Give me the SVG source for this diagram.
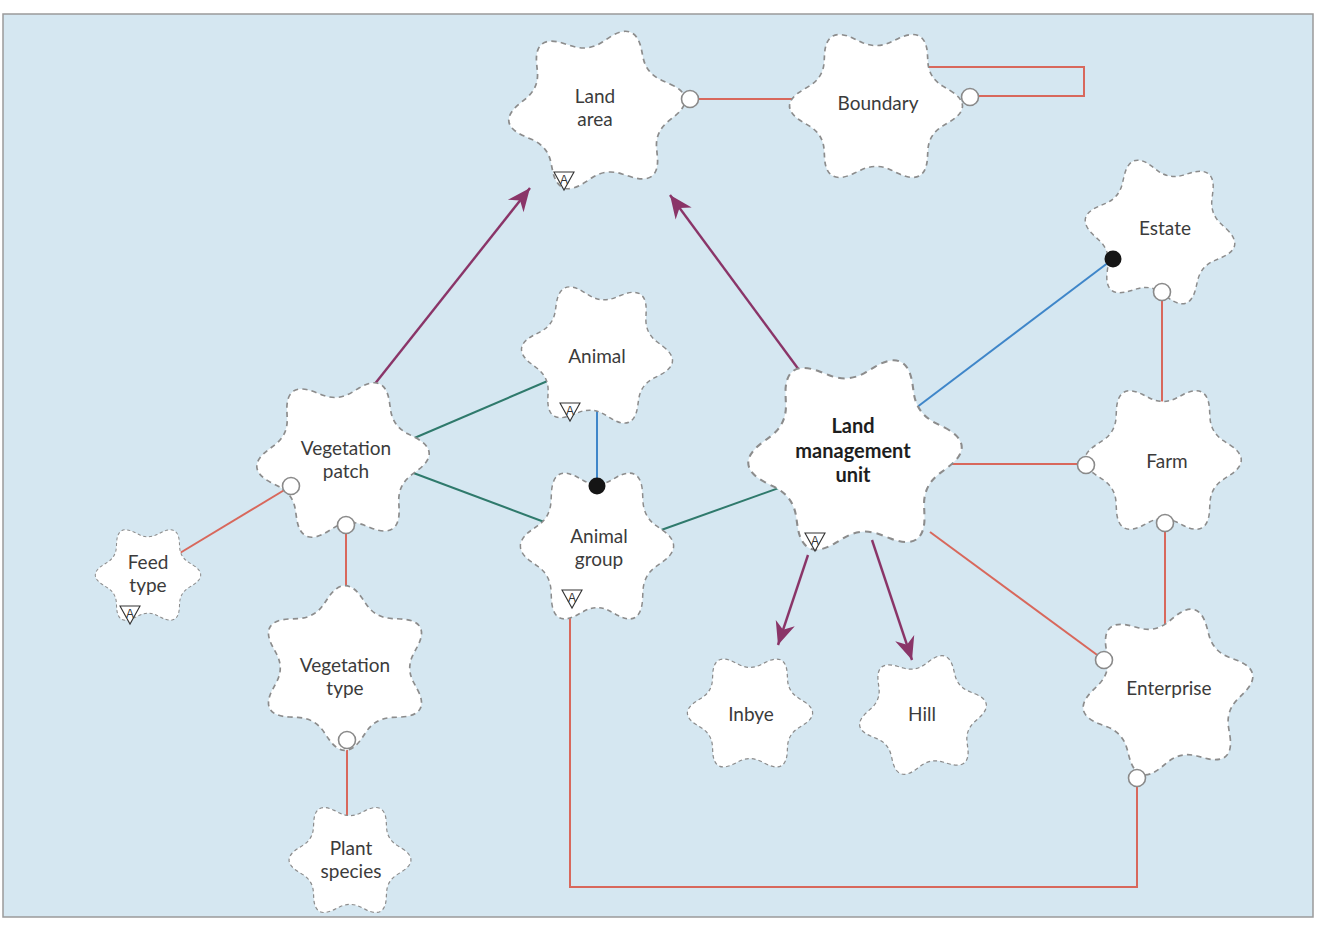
<svg xmlns="http://www.w3.org/2000/svg" xmlns:xlink="http://www.w3.org/1999/xlink" width="1321" height="926" viewBox="0 0 1321 926">
  <style>
    .blob { fill: #ffffff; stroke: #8c8c8c; stroke-width: 1.6; stroke-dasharray: 5 4; vector-effect: non-scaling-stroke; }
    .lbl { font-family: Lato, "Liberation Sans", sans-serif; font-size: 19px; fill: #3b3b3b; text-anchor: middle; }
    .bold { font-weight: bold; font-size: 20px; fill: #1e1e1e; }
    .red { stroke: #d8685c; stroke-width: 2; fill: none; }
    .teal { stroke: #2f7a6c; stroke-width: 2; fill: none; }
    .blue { stroke: #3f86c9; stroke-width: 2; fill: none; }
    .purple { stroke: #8a3568; stroke-width: 2.4; fill: none; marker-end: url(#arrow); }
    .open { fill: #ffffff; stroke: #8a8a8a; stroke-width: 1.6; }
    .dot { fill: #151515; }
    .tri { fill: #ffffff; stroke: #333333; stroke-width: 1.1; }
    .tri-a { font-family: "Liberation Sans", sans-serif; font-size: 12px; fill: #333333; text-anchor: middle; }
  </style>
  <defs>
    <!-- six-pointed cloud: blunt rounded tips, shallow rounded valleys, centred on the origin -->
    <path id="cloud" d="M70.38,-15.95 C86.38,-5.58 86.38,5.58 70.38,15.95 L63.66,20.3 Q50.23,29 49.41,44.98 L49,52.97 C48.02,72.01 38.36,77.59 21.38,68.93 L14.25,65.28 Q0,58 -14.24,65.28 L-21.38,68.93 C-38.36,77.59 -48.02,72.01 -49,52.97 L-49.41,44.98 Q-50.23,29 -63.66,20.3 L-70.38,15.95 C-86.38,5.58 -86.38,-5.58 -70.38,-15.95 L-63.66,-20.3 Q-50.23,-29 -49.41,-44.98 L-49,-52.97 C-48.02,-72.01 -38.36,-77.59 -21.38,-68.93 L-14.25,-65.28 Q0,-58 14.24,-65.28 L21.38,-68.93 C38.36,-77.59 48.02,-72.01 49,-52.97 L49.41,-44.98 Q50.23,-29 63.66,-20.3 Z"/>
    <marker id="arrow" markerUnits="userSpaceOnUse" viewBox="-24 -11 26 22" markerWidth="26" markerHeight="22" refX="0" refY="0" orient="auto">
      <path d="M0,0 L-23,-10 L-16,0 L-23,10 Z" fill="#8a3568"/>
    </marker>
    <g id="attr-icon">
      <polygon class="tri" points="-10,-8 10,-8 0,10"/>
      <text class="tri-a" x="0" y="4">A</text>
    </g>
  </defs>

  <!-- page and panel -->
  <rect x="0" y="0" width="1321" height="926" fill="#ffffff"/>
  <rect x="3" y="14" width="1310" height="903" fill="#d5e7f1" stroke="#9a9a9a" stroke-width="1.5"/>

  <!-- connector lines (drawn beneath the nodes) -->
  <g id="connectors">
    <path class="red" d="M690,99 H812"/>
    <path class="red" d="M915,67 H1084 V96 H970"/>
    <path class="red" d="M1162,292 V412"/>
    <path class="red" d="M900,464 H1086"/>
    <path class="red" d="M1165,523 V650"/>
    <path class="red" d="M930,532 L1104,660"/>
    <path class="red" d="M1137,778 V887 H570 V600"/>
    <path class="red" d="M165,562 L291,486"/>
    <path class="red" d="M346,525 V630"/>
    <path class="red" d="M347,740 V840"/>
    <path class="blue" d="M900,420 L1113,259"/>
    <path class="blue" d="M597,400 V488"/>
    <path class="teal" d="M405,442 L578,368"/>
    <path class="teal" d="M376,459 L563,529"/>
    <path class="teal" d="M650,534 L818,474"/>
    <path class="purple" d="M370,390 L530,188"/>
    <path class="purple" d="M805,378 L670,195"/>
    <path class="purple" d="M808,555 L778,645"/>
    <path class="purple" d="M872,540 L912,660"/>
  </g>

  <!-- nodes -->
  <g id="land-area">
    <use xlink:href="#cloud" class="blob" transform="translate(597,110) scale(1.08,1.02) rotate(-8)"/>
    <text class="lbl" x="595" y="103">Land</text>
    <text class="lbl" x="595" y="126">area</text>
    <use xlink:href="#attr-icon" transform="translate(564,180)"/>
  </g>
  <g id="boundary">
    <use xlink:href="#cloud" class="blob" transform="translate(876,106) scale(1.05,0.98)"/>
    <text class="lbl" x="878" y="110">Boundary</text>
  </g>
  <g id="estate">
    <use xlink:href="#cloud" class="blob" transform="translate(1160,232) scale(0.92,0.92) rotate(10)"/>
    <text class="lbl" x="1165" y="235">Estate</text>
  </g>
  <g id="animal">
    <use xlink:href="#cloud" class="blob" transform="translate(597,355) scale(0.92,0.9) rotate(5)"/>
    <text class="lbl" x="597" y="363">Animal</text>
    <use xlink:href="#attr-icon" transform="translate(570,411)"/>
  </g>
  <g id="vegetation-patch">
    <use xlink:href="#cloud" class="blob" transform="translate(343,460) scale(1.05,1.02) rotate(-5)"/>
    <text class="lbl" x="346" y="455">Vegetation</text>
    <text class="lbl" x="346" y="478">patch</text>
  </g>
  <g id="land-management-unit">
    <use xlink:href="#cloud" class="blob" transform="translate(855,455) scale(1.3,1.25) rotate(-5)"/>
    <text class="lbl bold" x="853" y="433">Land</text>
    <text class="lbl bold" x="853" y="458">management</text>
    <text class="lbl bold" x="853" y="482">unit</text>
    <use xlink:href="#attr-icon" transform="translate(815,541)"/>
  </g>
  <g id="farm">
    <use xlink:href="#cloud" class="blob" transform="translate(1163,460) scale(0.95,0.95)"/>
    <text class="lbl" x="1167" y="468">Farm</text>
  </g>
  <g id="feed-type">
    <use xlink:href="#cloud" class="blob" transform="translate(148,575) scale(0.64,0.62)"/>
    <text class="lbl" x="148" y="569">Feed</text>
    <text class="lbl" x="148" y="592">type</text>
    <use xlink:href="#attr-icon" transform="translate(130,614)"/>
  </g>
  <g id="animal-group">
    <use xlink:href="#cloud" class="blob" transform="translate(597,546) scale(0.93,1.0)"/>
    <text class="lbl" x="599" y="543">Animal</text>
    <text class="lbl" x="599" y="566">group</text>
    <use xlink:href="#attr-icon" transform="translate(572,598)"/>
  </g>
  <g id="vegetation-type">
    <use xlink:href="#cloud" class="blob" transform="translate(345,668) scale(1.05,1.0) rotate(30)"/>
    <text class="lbl" x="345" y="672">Vegetation</text>
    <text class="lbl" x="345" y="695">type</text>
  </g>
  <g id="inbye">
    <use xlink:href="#cloud" class="blob" transform="translate(750,713) scale(0.76,0.74)"/>
    <text class="lbl" x="751" y="721">Inbye</text>
  </g>
  <g id="hill">
    <use xlink:href="#cloud" class="blob" transform="translate(923,715) scale(0.78,0.76) rotate(-10)"/>
    <text class="lbl" x="922" y="721">Hill</text>
  </g>
  <g id="enterprise">
    <use xlink:href="#cloud" class="blob" transform="translate(1168,692) scale(1.05,1.05) rotate(48)"/>
    <text class="lbl" x="1169" y="695">Enterprise</text>
  </g>
  <g id="plant-species">
    <use xlink:href="#cloud" class="blob" transform="translate(350,860) scale(0.74,0.72)"/>
    <text class="lbl" x="351" y="855">Plant</text>
    <text class="lbl" x="351" y="878">species</text>
  </g>

  <!-- connector end symbols, drawn over the node outlines -->
  <g id="connector-ends">
    <circle class="open" cx="690" cy="99" r="8.5"/>
    <circle class="open" cx="970" cy="97" r="8.5"/>
    <circle class="open" cx="1162" cy="292" r="8.5"/>
    <circle class="open" cx="1086" cy="465" r="8.5"/>
    <circle class="open" cx="1165" cy="523" r="8.5"/>
    <circle class="open" cx="1104" cy="660" r="8.5"/>
    <circle class="open" cx="1137" cy="778" r="8.5"/>
    <circle class="open" cx="291" cy="486" r="8.5"/>
    <circle class="open" cx="346" cy="525" r="8.5"/>
    <circle class="open" cx="347" cy="740" r="8.5"/>
    <circle class="dot" cx="1113" cy="259" r="8.5"/>
    <circle class="dot" cx="597" cy="486" r="8.5"/>
  </g>
</svg>
